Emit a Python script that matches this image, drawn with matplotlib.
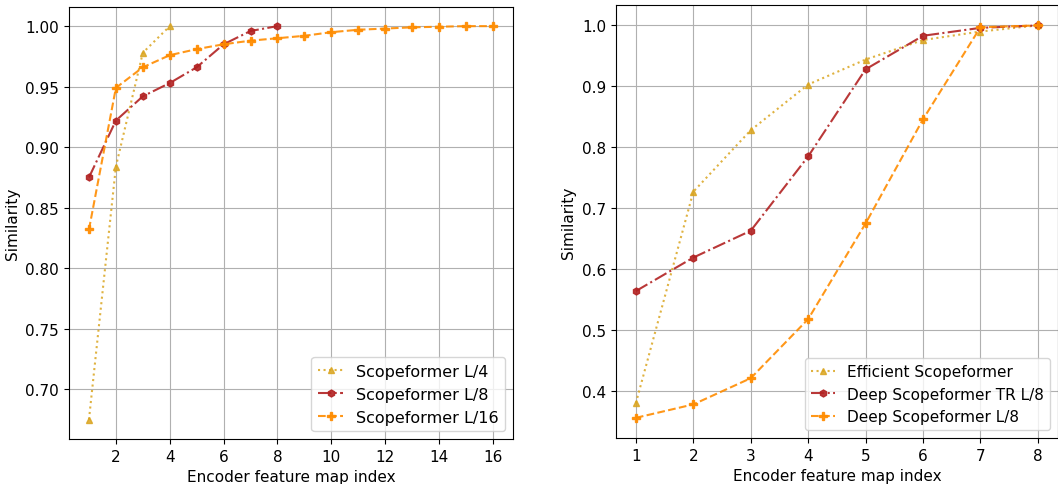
import numpy as np
import matplotlib.pyplot as plt

# left panel
idx_l4 = [1, 2, 3, 4]
sim_l4 = [0.675, 0.884, 0.978, 1.0]
idx_l8 = [1, 2, 3, 4, 5, 6, 7, 8]
sim_l8 = [0.875, 0.922, 0.942, 0.953, 0.966, 0.985, 0.996, 1.0]
idx_l16 = list(range(1, 17))
sim_l16 = [0.832, 0.949, 0.966, 0.976, 0.981, 0.985, 0.988, 0.990,
           0.992, 0.995, 0.997, 0.998, 0.999, 0.9995, 1.0, 1.0]

# right panel
idx_r = [1, 2, 3, 4, 5, 6, 7, 8]
sim_eff = [0.380, 0.727, 0.828, 0.903, 0.944, 0.976, 0.990, 1.0]
sim_tr = [0.564, 0.619, 0.663, 0.785, 0.928, 0.983, 0.996, 1.0]
sim_deep = [0.356, 0.378, 0.421, 0.518, 0.675, 0.846, 0.997, 1.0]

plt.rcParams['font.size'] = 11

fig = plt.figure(figsize=(10.58, 4.85), dpi=100)
ax1 = fig.add_axes([0.065, 0.093, 0.420, 0.891])
ax2 = fig.add_axes([0.582, 0.095, 0.418, 0.892])

ms = 5
ax1.plot(idx_l4, sim_l4, ':', marker='^', color='goldenrod', alpha=0.85, ms=ms, label='Scopeformer L/4')
ax1.plot(idx_l8, sim_l8, '-.', marker='h', color='firebrick', alpha=0.9, ms=ms, label='Scopeformer L/8')
ax1.plot(idx_l16, sim_l16, '--', marker='P', color='darkorange', alpha=0.9, ms=ms + 1, label='Scopeformer L/16')
ax1.set_xticks(range(2, 17, 2))
ax1.set_yticks(np.arange(0.70, 1.001, 0.05))
ax1.set_ylim(0.659, 1.016)
ax1.set_xlim(0.25, 16.75)
ax1.set_xlabel('Encoder feature map index')
ax1.set_ylabel('Similarity')
ax1.grid()
ax1.legend(loc='lower right', fontsize=11.5, handlelength=1.6)

ax2.plot(idx_r, sim_eff, ':', marker='^', color='goldenrod', alpha=0.85, ms=ms, label='Efficient Scopeformer')
ax2.plot(idx_r, sim_tr, '-.', marker='h', color='firebrick', alpha=0.9, ms=ms, label='Deep Scopeformer TR L/8')
ax2.plot(idx_r, sim_deep, '--', marker='P', color='darkorange', alpha=0.9, ms=ms + 1, label='Deep Scopeformer L/8')
ax2.set_xticks(range(1, 9))
ax2.set_ylim(0.323, 1.033)
ax2.set_xlim(0.65, 8.35)
ax2.set_xlabel('Encoder feature map index')
ax2.set_ylabel('Similarity')
ax2.grid()
ax2.legend(loc='lower right', handlelength=1.6)

fig.savefig('out.png')
